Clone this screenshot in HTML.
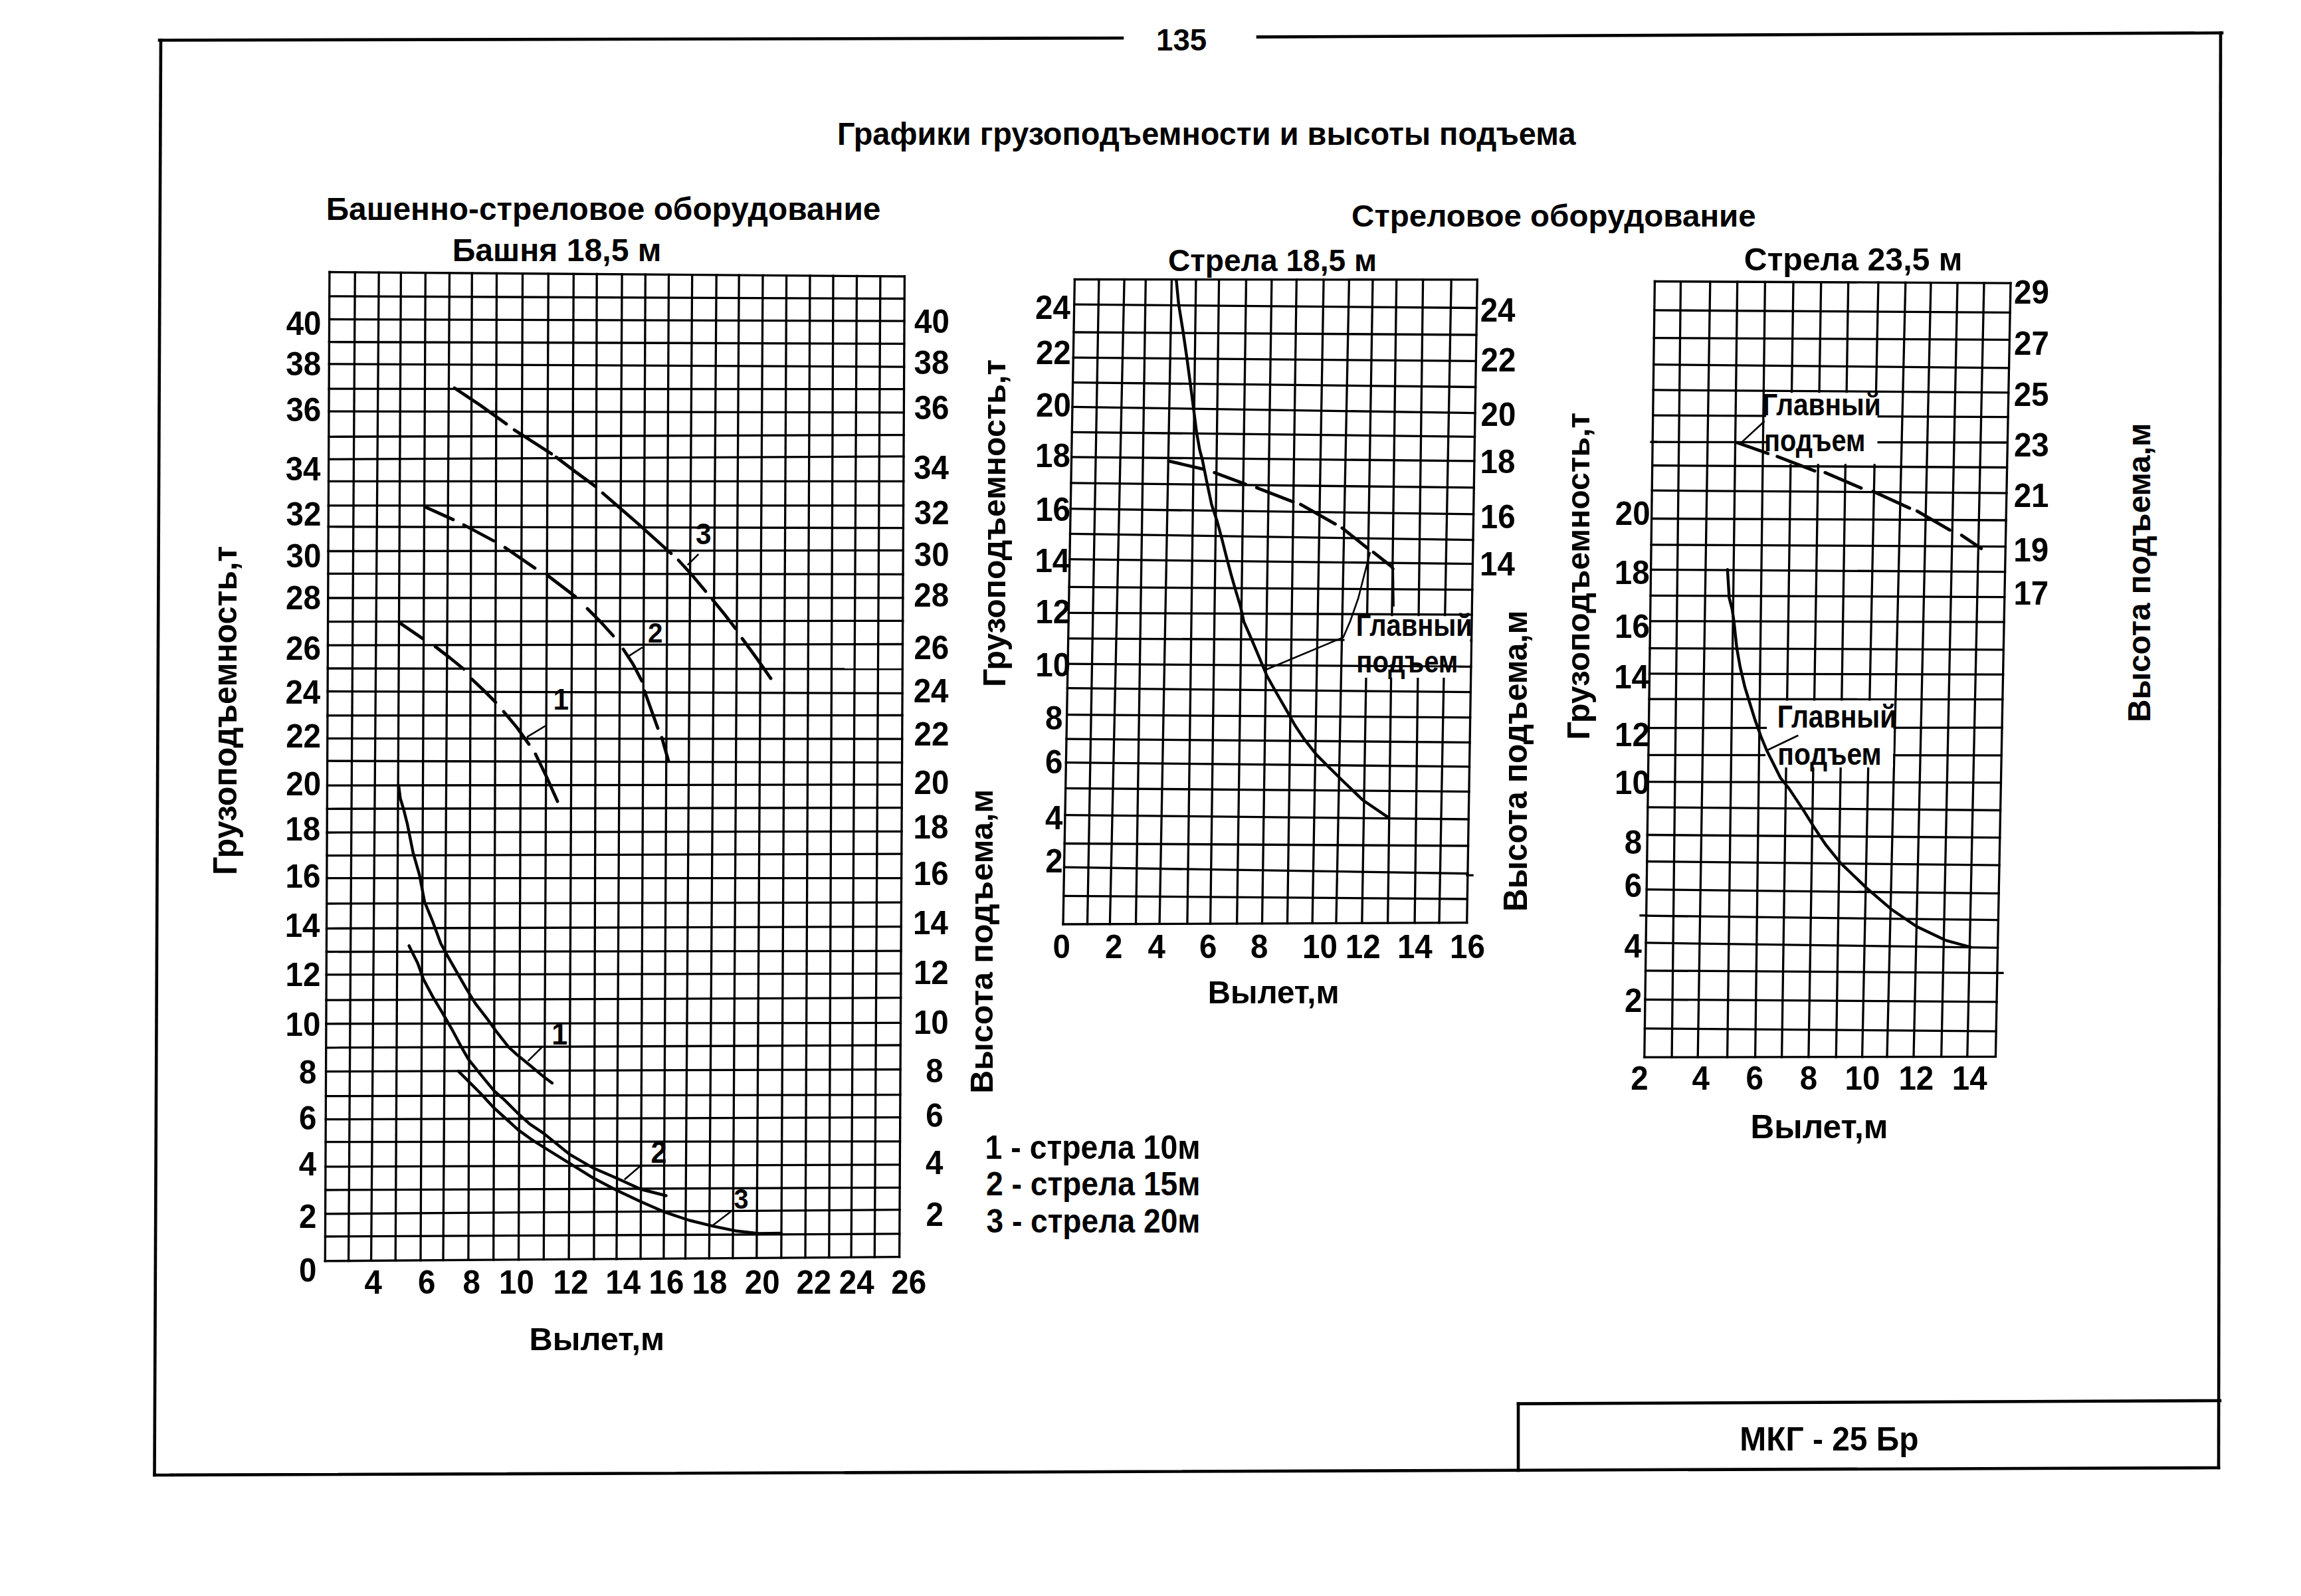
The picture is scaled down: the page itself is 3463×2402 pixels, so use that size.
<!DOCTYPE html>
<html><head><meta charset="utf-8"><style>
html,body{margin:0;padding:0;background:#fff;}
body{width:3463px;height:2402px;overflow:hidden;}
svg{display:block;}
text{font-family:"Liberation Sans",sans-serif;font-weight:bold;fill:#000;}
</style></head><body>
<svg xmlns="http://www.w3.org/2000/svg" width="3463" height="2402" viewBox="0 0 3463 2402">
<rect width="3463" height="2402" fill="#fff"/>
<g stroke="#000" stroke-linecap="square">
<line x1="240.0" y1="60.5" x2="1689.0" y2="57.3" stroke-width="4.6"/>
<line x1="1893.0" y1="55.6" x2="3344.0" y2="49.5" stroke-width="4.6"/>
<line x1="3342.0" y1="49.5" x2="3339.0" y2="2209.0" stroke-width="4.6"/>
<line x1="242.0" y1="60.5" x2="232.5" y2="2220.0" stroke-width="4.6"/>
<line x1="232.5" y1="2220.0" x2="3339.0" y2="2209.0" stroke-width="4.6"/>
<line x1="2285.0" y1="2112.6" x2="3341.0" y2="2108.0" stroke-width="4.6"/>
<line x1="2285.0" y1="2112.6" x2="2285.0" y2="2213.0" stroke-width="4.6"/>
<line x1="495.9" y1="409.5" x2="489.3" y2="1897.9" stroke-width="3.3"/>
<line x1="534.3" y1="409.8" x2="524.6" y2="1897.6" stroke-width="3.3"/>
<line x1="570.2" y1="410.1" x2="558.6" y2="1897.4" stroke-width="3.3"/>
<line x1="603.4" y1="410.3" x2="595.2" y2="1897.1" stroke-width="3.3"/>
<line x1="640.3" y1="410.6" x2="633.0" y2="1896.9" stroke-width="3.3"/>
<line x1="676.5" y1="410.9" x2="667.0" y2="1896.6" stroke-width="3.3"/>
<line x1="710.3" y1="411.1" x2="704.9" y2="1896.4" stroke-width="3.3"/>
<line x1="747.5" y1="411.4" x2="742.7" y2="1896.1" stroke-width="3.3"/>
<line x1="786.5" y1="411.7" x2="780.5" y2="1895.8" stroke-width="3.3"/>
<line x1="825.3" y1="412.0" x2="818.3" y2="1895.5" stroke-width="3.3"/>
<line x1="863.3" y1="412.3" x2="856.1" y2="1895.3" stroke-width="3.3"/>
<line x1="898.2" y1="412.5" x2="893.9" y2="1895.0" stroke-width="3.3"/>
<line x1="936.1" y1="412.8" x2="927.9" y2="1894.8" stroke-width="3.3"/>
<line x1="971.3" y1="413.1" x2="964.1" y2="1894.5" stroke-width="3.3"/>
<line x1="1006.5" y1="413.3" x2="998.9" y2="1894.2" stroke-width="3.3"/>
<line x1="1041.7" y1="413.6" x2="1031.5" y2="1894.0" stroke-width="3.3"/>
<line x1="1078.2" y1="413.9" x2="1067.3" y2="1893.8" stroke-width="3.3"/>
<line x1="1112.2" y1="414.1" x2="1102.9" y2="1893.5" stroke-width="3.3"/>
<line x1="1148.0" y1="414.4" x2="1138.8" y2="1893.2" stroke-width="3.3"/>
<line x1="1183.6" y1="414.7" x2="1175.8" y2="1893.0" stroke-width="3.3"/>
<line x1="1219.0" y1="414.9" x2="1212.0" y2="1892.7" stroke-width="3.3"/>
<line x1="1254.0" y1="415.2" x2="1247.8" y2="1892.5" stroke-width="3.3"/>
<line x1="1289.5" y1="415.5" x2="1281.1" y2="1892.2" stroke-width="3.3"/>
<line x1="1324.9" y1="415.7" x2="1316.3" y2="1892.0" stroke-width="3.3"/>
<line x1="1361.4" y1="416.0" x2="1353.6" y2="1891.7" stroke-width="3.3"/>
<line x1="495.9" y1="409.5" x2="1361.4" y2="416.0" stroke-width="3.3"/>
<line x1="495.7" y1="445.9" x2="1361.2" y2="449.5" stroke-width="3.3"/>
<line x1="495.6" y1="480.5" x2="1361.0" y2="483.1" stroke-width="3.3"/>
<line x1="495.4" y1="514.7" x2="1360.9" y2="517.3" stroke-width="3.3"/>
<line x1="495.3" y1="547.8" x2="1360.7" y2="552.1" stroke-width="3.3"/>
<line x1="495.1" y1="585.2" x2="1360.5" y2="585.7" stroke-width="3.3"/>
<line x1="495.0" y1="619.1" x2="1360.3" y2="620.8" stroke-width="3.3"/>
<line x1="494.8" y1="657.3" x2="1360.1" y2="654.7" stroke-width="3.3"/>
<line x1="494.7" y1="691.2" x2="1360.0" y2="686.9" stroke-width="3.3"/>
<line x1="494.5" y1="724.3" x2="1359.8" y2="724.3" stroke-width="3.3"/>
<line x1="494.3" y1="760.8" x2="1359.6" y2="760.8" stroke-width="3.3"/>
<line x1="494.2" y1="792.7" x2="1359.4" y2="794.7" stroke-width="3.3"/>
<line x1="494.0" y1="829.5" x2="1359.2" y2="828.3" stroke-width="3.3"/>
<line x1="493.9" y1="863.4" x2="1359.0" y2="864.3" stroke-width="3.3"/>
<line x1="493.7" y1="900.0" x2="1358.8" y2="899.9" stroke-width="3.3"/>
<line x1="493.6" y1="935.6" x2="1358.7" y2="934.3" stroke-width="3.3"/>
<line x1="493.4" y1="971.2" x2="1358.5" y2="969.5" stroke-width="3.3"/>
<line x1="493.3" y1="1006.0" x2="1358.3" y2="1006.9" stroke-width="3.3"/>
<line x1="493.1" y1="1040.5" x2="1358.1" y2="1043.4" stroke-width="3.3"/>
<line x1="492.9" y1="1076.9" x2="1357.9" y2="1076.5" stroke-width="3.3"/>
<line x1="492.8" y1="1111.3" x2="1357.7" y2="1112.1" stroke-width="3.3"/>
<line x1="492.6" y1="1145.2" x2="1357.5" y2="1147.7" stroke-width="3.3"/>
<line x1="492.5" y1="1182.2" x2="1357.4" y2="1180.8" stroke-width="3.3"/>
<line x1="492.3" y1="1217.3" x2="1357.2" y2="1215.6" stroke-width="3.3"/>
<line x1="492.2" y1="1253.0" x2="1357.0" y2="1251.3" stroke-width="3.3"/>
<line x1="492.0" y1="1287.7" x2="1356.8" y2="1285.2" stroke-width="3.3"/>
<line x1="491.9" y1="1321.7" x2="1356.6" y2="1321.7" stroke-width="3.3"/>
<line x1="491.7" y1="1360.0" x2="1356.4" y2="1358.2" stroke-width="3.3"/>
<line x1="491.5" y1="1397.3" x2="1356.2" y2="1394.7" stroke-width="3.3"/>
<line x1="491.4" y1="1432.5" x2="1356.0" y2="1431.2" stroke-width="3.3"/>
<line x1="491.2" y1="1466.9" x2="1355.9" y2="1465.2" stroke-width="3.3"/>
<line x1="491.0" y1="1505.1" x2="1355.7" y2="1501.7" stroke-width="3.3"/>
<line x1="490.9" y1="1540.8" x2="1355.5" y2="1539.4" stroke-width="3.3"/>
<line x1="490.7" y1="1576.8" x2="1355.3" y2="1573.0" stroke-width="3.3"/>
<line x1="490.6" y1="1612.6" x2="1355.1" y2="1609.5" stroke-width="3.3"/>
<line x1="490.4" y1="1649.6" x2="1354.9" y2="1647.7" stroke-width="3.3"/>
<line x1="490.2" y1="1684.7" x2="1354.7" y2="1681.6" stroke-width="3.3"/>
<line x1="490.1" y1="1718.6" x2="1354.5" y2="1717.8" stroke-width="3.3"/>
<line x1="489.9" y1="1755.9" x2="1354.3" y2="1752.9" stroke-width="3.3"/>
<line x1="489.8" y1="1791.0" x2="1354.2" y2="1787.3" stroke-width="3.3"/>
<line x1="489.6" y1="1826.9" x2="1354.0" y2="1820.7" stroke-width="3.3"/>
<line x1="489.5" y1="1861.0" x2="1353.8" y2="1856.9" stroke-width="3.3"/>
<line x1="489.3" y1="1897.9" x2="1353.6" y2="1891.7" stroke-width="3.3"/>
<line x1="1617.4" y1="420.5" x2="1600.0" y2="1391.0" stroke-width="3.3"/>
<line x1="1653.9" y1="420.5" x2="1636.5" y2="1390.9" stroke-width="3.3"/>
<line x1="1692.1" y1="420.5" x2="1670.4" y2="1390.7" stroke-width="3.3"/>
<line x1="1724.3" y1="420.6" x2="1709.5" y2="1390.6" stroke-width="3.3"/>
<line x1="1763.4" y1="420.6" x2="1745.1" y2="1390.4" stroke-width="3.3"/>
<line x1="1799.9" y1="420.6" x2="1786.9" y2="1390.3" stroke-width="3.3"/>
<line x1="1834.6" y1="420.6" x2="1821.6" y2="1390.1" stroke-width="3.3"/>
<line x1="1875.5" y1="420.7" x2="1861.6" y2="1390.0" stroke-width="3.3"/>
<line x1="1913.9" y1="420.7" x2="1899.5" y2="1389.8" stroke-width="3.3"/>
<line x1="1951.3" y1="420.7" x2="1937.5" y2="1389.7" stroke-width="3.3"/>
<line x1="1992.1" y1="420.7" x2="1975.1" y2="1389.5" stroke-width="3.3"/>
<line x1="2030.4" y1="420.8" x2="2010.9" y2="1389.4" stroke-width="3.3"/>
<line x1="2066.0" y1="420.8" x2="2049.8" y2="1389.2" stroke-width="3.3"/>
<line x1="2101.7" y1="420.8" x2="2088.6" y2="1389.1" stroke-width="3.3"/>
<line x1="2141.6" y1="420.8" x2="2129.1" y2="1388.9" stroke-width="3.3"/>
<line x1="2184.2" y1="420.9" x2="2166.0" y2="1388.8" stroke-width="3.3"/>
<line x1="2223.3" y1="420.9" x2="2207.7" y2="1388.6" stroke-width="3.3"/>
<line x1="1617.4" y1="420.5" x2="2223.3" y2="420.9" stroke-width="3.3"/>
<line x1="1616.7" y1="458.2" x2="2222.6" y2="463.5" stroke-width="3.3"/>
<line x1="1616.0" y1="500.0" x2="2222.0" y2="504.0" stroke-width="3.3"/>
<line x1="1615.3" y1="538.2" x2="2221.3" y2="543.4" stroke-width="3.3"/>
<line x1="1614.6" y1="575.6" x2="2220.7" y2="582.5" stroke-width="3.3"/>
<line x1="1614.0" y1="612.4" x2="2220.1" y2="621.6" stroke-width="3.3"/>
<line x1="1613.3" y1="650.3" x2="2219.5" y2="657.3" stroke-width="3.3"/>
<line x1="1612.6" y1="687.8" x2="2218.9" y2="693.9" stroke-width="3.3"/>
<line x1="1611.9" y1="726.9" x2="2218.3" y2="733.9" stroke-width="3.3"/>
<line x1="1611.2" y1="765.7" x2="2217.6" y2="773.9" stroke-width="3.3"/>
<line x1="1610.5" y1="803.4" x2="2217.0" y2="812.6" stroke-width="3.3"/>
<line x1="1609.8" y1="841.7" x2="2216.4" y2="848.6" stroke-width="3.3"/>
<line x1="1609.1" y1="883.4" x2="2215.8" y2="887.7" stroke-width="3.3"/>
<line x1="1608.4" y1="922.3" x2="2215.2" y2="925.1" stroke-width="3.3"/>
<line x1="1607.7" y1="960.9" x2="2214.5" y2="964.0" stroke-width="3.3"/>
<line x1="1607.0" y1="999.1" x2="2213.9" y2="1003.4" stroke-width="3.3"/>
<line x1="1606.4" y1="1035.6" x2="2213.3" y2="1041.7" stroke-width="3.3"/>
<line x1="1605.7" y1="1075.6" x2="2212.7" y2="1079.9" stroke-width="3.3"/>
<line x1="1605.0" y1="1112.1" x2="2212.1" y2="1117.3" stroke-width="3.3"/>
<line x1="1604.4" y1="1147.7" x2="2211.5" y2="1153.8" stroke-width="3.3"/>
<line x1="1603.7" y1="1186.3" x2="2210.9" y2="1191.3" stroke-width="3.3"/>
<line x1="1602.9" y1="1226.6" x2="2210.2" y2="1233.0" stroke-width="3.3"/>
<line x1="1602.2" y1="1269.5" x2="2209.6" y2="1273.0" stroke-width="3.3"/>
<line x1="1601.5" y1="1305.2" x2="2208.9" y2="1314.7" stroke-width="3.3"/>
<line x1="1600.8" y1="1348.3" x2="2208.3" y2="1353.0" stroke-width="3.3"/>
<line x1="1600.0" y1="1391.0" x2="2207.7" y2="1388.6" stroke-width="3.3"/>
<line x1="2490.4" y1="423.5" x2="2474.8" y2="1591.2" stroke-width="3.3"/>
<line x1="2529.5" y1="423.7" x2="2516.1" y2="1591.1" stroke-width="3.3"/>
<line x1="2573.8" y1="423.9" x2="2555.2" y2="1591.1" stroke-width="3.3"/>
<line x1="2614.7" y1="424.1" x2="2599.6" y2="1591.0" stroke-width="3.3"/>
<line x1="2656.4" y1="424.3" x2="2641.6" y2="1590.9" stroke-width="3.3"/>
<line x1="2699.0" y1="424.5" x2="2681.6" y2="1590.9" stroke-width="3.3"/>
<line x1="2740.7" y1="424.7" x2="2721.9" y2="1590.8" stroke-width="3.3"/>
<line x1="2781.7" y1="424.9" x2="2763.3" y2="1590.8" stroke-width="3.3"/>
<line x1="2826.9" y1="425.1" x2="2802.6" y2="1590.7" stroke-width="3.3"/>
<line x1="2867.8" y1="425.3" x2="2840.0" y2="1590.6" stroke-width="3.3"/>
<line x1="2906.0" y1="425.5" x2="2880.0" y2="1590.6" stroke-width="3.3"/>
<line x1="2946.0" y1="425.7" x2="2921.7" y2="1590.5" stroke-width="3.3"/>
<line x1="2986.0" y1="425.9" x2="2960.8" y2="1590.5" stroke-width="3.3"/>
<line x1="3026.0" y1="426.1" x2="3003.4" y2="1590.4" stroke-width="3.3"/>
<line x1="2490.4" y1="423.5" x2="3026.0" y2="426.1" stroke-width="3.3"/>
<line x1="2489.8" y1="466.9" x2="3025.1" y2="470.4" stroke-width="3.3"/>
<line x1="2489.3" y1="508.6" x2="3024.3" y2="511.3" stroke-width="3.3"/>
<line x1="2488.7" y1="548.6" x2="3023.5" y2="553.8" stroke-width="3.3"/>
<line x1="2488.2" y1="586.9" x2="3022.8" y2="590.9" stroke-width="3.3"/>
<line x1="2487.7" y1="625.1" x2="3022.1" y2="627.7" stroke-width="3.3"/>
<line x1="2487.2" y1="665.2" x2="3021.3" y2="666.0" stroke-width="3.3"/>
<line x1="2486.7" y1="700.5" x2="3020.6" y2="703.5" stroke-width="3.3"/>
<line x1="2486.2" y1="738.2" x2="3019.9" y2="742.1" stroke-width="3.3"/>
<line x1="2485.6" y1="780.5" x2="3019.1" y2="783.0" stroke-width="3.3"/>
<line x1="2485.1" y1="819.9" x2="3018.3" y2="822.6" stroke-width="3.3"/>
<line x1="2484.6" y1="857.3" x2="3017.6" y2="860.7" stroke-width="3.3"/>
<line x1="2484.1" y1="896.4" x2="3016.8" y2="898.6" stroke-width="3.3"/>
<line x1="2483.6" y1="934.8" x2="3016.1" y2="936.1" stroke-width="3.3"/>
<line x1="2483.0" y1="975.6" x2="3015.3" y2="977.8" stroke-width="3.3"/>
<line x1="2482.5" y1="1013.9" x2="3014.6" y2="1015.2" stroke-width="3.3"/>
<line x1="2482.0" y1="1052.1" x2="3013.8" y2="1052.5" stroke-width="3.3"/>
<line x1="2481.4" y1="1095.6" x2="3013.0" y2="1095.1" stroke-width="3.3"/>
<line x1="2480.9" y1="1136.4" x2="3012.2" y2="1136.9" stroke-width="3.3"/>
<line x1="2480.3" y1="1176.7" x2="3011.4" y2="1177.8" stroke-width="3.3"/>
<line x1="2479.8" y1="1214.8" x2="3010.6" y2="1219.5" stroke-width="3.3"/>
<line x1="2479.3" y1="1256.5" x2="3009.8" y2="1260.7" stroke-width="3.3"/>
<line x1="2478.7" y1="1296.5" x2="3009.0" y2="1302.1" stroke-width="3.3"/>
<line x1="2478.2" y1="1338.7" x2="3008.2" y2="1344.7" stroke-width="3.3"/>
<line x1="2477.6" y1="1378.2" x2="3007.4" y2="1384.7" stroke-width="3.3"/>
<line x1="2477.1" y1="1418.9" x2="3006.6" y2="1426.3" stroke-width="3.3"/>
<line x1="2476.5" y1="1460.8" x2="3005.8" y2="1464.3" stroke-width="3.3"/>
<line x1="2476.0" y1="1504.3" x2="3005.0" y2="1507.8" stroke-width="3.3"/>
<line x1="2475.4" y1="1547.8" x2="3004.1" y2="1552.1" stroke-width="3.3"/>
<line x1="2474.8" y1="1591.2" x2="3003.4" y2="1590.4" stroke-width="3.3"/>
<line x1="2485.0" y1="665.2" x2="2492.0" y2="665.2" stroke-width="3.3"/>
<line x1="2208.0" y1="1317.3" x2="2216.0" y2="1317.3" stroke-width="3.3"/>
<line x1="3003.0" y1="1464.3" x2="3014.0" y2="1464.3" stroke-width="3.3"/>
<line x1="2469.0" y1="1377.8" x2="2478.0" y2="1377.8" stroke-width="3.3"/>
<rect x="2023.5" y="927.3" width="188.8" height="72.7" fill="#fff" stroke="none"/>
<rect x="2040.0" y="1004.5" width="155.0" height="15.5" fill="#fff" stroke="none"/>
<rect x="2658.0" y="591.2" width="167.5" height="107.0" fill="#fff" stroke="none"/>
<rect x="2659.0" y="1054.5" width="190.5" height="80.0" fill="#fff" stroke="none"/>
<rect x="2657.0" y="1134.5" width="192.0" height="20.5" fill="#fff" stroke="none"/>
<polyline points="684.0,584.0 723.0,610.0 762.0,638.0" fill="none" stroke-width="4.8" stroke-linejoin="round" stroke-linecap="round"/>
<polyline points="774.0,647.0 802.0,665.0 830.0,683.0" fill="none" stroke-width="4.8" stroke-linejoin="round" stroke-linecap="round"/>
<polyline points="837.0,688.0 866.0,710.0 896.0,732.0" fill="none" stroke-width="4.8" stroke-linejoin="round" stroke-linecap="round"/>
<polyline points="907.0,742.0 960.0,788.0 1010.0,833.0" fill="none" stroke-width="4.8" stroke-linejoin="round" stroke-linecap="round"/>
<polyline points="1021.0,843.0 1042.0,866.0 1062.0,890.0" fill="none" stroke-width="4.8" stroke-linejoin="round" stroke-linecap="round"/>
<polyline points="1072.0,902.0 1090.0,924.0 1107.0,946.0" fill="none" stroke-width="4.8" stroke-linejoin="round" stroke-linecap="round"/>
<polyline points="1117.0,961.0 1139.0,991.0 1160.0,1021.0" fill="none" stroke-width="4.8" stroke-linejoin="round" stroke-linecap="round"/>
<polyline points="640.0,763.0 682.0,782.0" fill="none" stroke-width="4.8" stroke-linejoin="round" stroke-linecap="round"/>
<polyline points="698.0,790.0 743.0,814.0" fill="none" stroke-width="4.8" stroke-linejoin="round" stroke-linecap="round"/>
<polyline points="760.0,824.0 805.0,855.0" fill="none" stroke-width="4.8" stroke-linejoin="round" stroke-linecap="round"/>
<polyline points="824.0,866.0 866.0,898.0" fill="none" stroke-width="4.8" stroke-linejoin="round" stroke-linecap="round"/>
<polyline points="884.0,916.0 904.0,936.0 923.0,957.0" fill="none" stroke-width="4.8" stroke-linejoin="round" stroke-linecap="round"/>
<polyline points="938.0,977.0 953.0,1000.0 966.0,1025.0" fill="none" stroke-width="4.8" stroke-linejoin="round" stroke-linecap="round"/>
<polyline points="970.0,1040.0 980.0,1068.0 990.0,1096.0" fill="none" stroke-width="4.8" stroke-linejoin="round" stroke-linecap="round"/>
<polyline points="996.0,1110.0 1006.0,1145.0" fill="none" stroke-width="4.8" stroke-linejoin="round" stroke-linecap="round"/>
<polyline points="601.0,937.0 636.0,961.0" fill="none" stroke-width="4.8" stroke-linejoin="round" stroke-linecap="round"/>
<polyline points="655.0,973.0 677.0,990.0 698.0,1007.0" fill="none" stroke-width="4.8" stroke-linejoin="round" stroke-linecap="round"/>
<polyline points="710.0,1022.0 728.0,1039.0 746.0,1057.0" fill="none" stroke-width="4.8" stroke-linejoin="round" stroke-linecap="round"/>
<polyline points="758.0,1071.0 778.0,1095.0 796.0,1120.0" fill="none" stroke-width="4.8" stroke-linejoin="round" stroke-linecap="round"/>
<polyline points="806.0,1135.0 822.0,1168.0 839.0,1206.0" fill="none" stroke-width="4.8" stroke-linejoin="round" stroke-linecap="round"/>
<line x1="1050.4" y1="834.9" x2="1035.7" y2="849.5" stroke-width="2.6"/>
<line x1="965.7" y1="975.0" x2="947.8" y2="986.4" stroke-width="2.6"/>
<line x1="820.0" y1="1093.0" x2="794.0" y2="1108.6" stroke-width="2.6"/>
<polyline points="600.0,1182.0 602.5,1201.7 607.7,1219.0 613.0,1240.0 621.7,1283.4 631.2,1316.4 639.0,1357.4 651.2,1386.9 663.4,1420.0 673.8,1439.1 687.7,1463.4 701.6,1487.7 715.5,1510.3 732.9,1532.9 746.8,1552.1 765.9,1576.4 778.1,1587.4 797.2,1603.0 818.1,1620.4 831.0,1630.0" fill="none" stroke-width="4.4" stroke-linejoin="round" stroke-linecap="round"/>
<polyline points="615.6,1423.4 628.6,1449.5 637.3,1473.8 651.2,1499.9 666.8,1526.0 680.8,1550.3 694.7,1576.4 705.1,1594.3 726.0,1620.4 743.3,1641.3 759.0,1655.2 778.1,1674.3 797.2,1691.7 818.1,1705.6 856.6,1736.8 892.7,1757.8 928.8,1773.5 964.9,1790.0 1002.5,1799.5" fill="none" stroke-width="4.4" stroke-linejoin="round" stroke-linecap="round"/>
<polyline points="689.7,1612.0 705.1,1627.4 722.5,1644.8 741.6,1665.6 760.7,1683.0 779.8,1700.4 799.0,1714.3 818.1,1726.5 856.6,1750.3 892.7,1772.8 928.8,1791.8 964.9,1808.8 1001.0,1824.5 1037.0,1836.5 1073.1,1845.3 1109.2,1852.8 1142.3,1856.5 1176.0,1856.0" fill="none" stroke-width="4.4" stroke-linejoin="round" stroke-linecap="round"/>
<line x1="814.6" y1="1577.0" x2="795.5" y2="1596.0" stroke-width="2.6"/>
<line x1="961.9" y1="1756.3" x2="940.8" y2="1774.4" stroke-width="2.6"/>
<line x1="1098.5" y1="1824.5" x2="1073.0" y2="1844.0" stroke-width="2.6"/>
<polyline points="1770.3,420.9 1773.8,457.4 1780.8,500.8 1786.8,542.5 1792.1,582.5 1795.5,608.6 1800.8,650.3 1805.5,676.9 1809.4,691.3 1816.4,726.1 1823.4,759.1 1832.0,785.2 1839.0,811.2 1846.0,839.0 1852.9,865.1 1859.9,889.5 1866.8,912.1 1872.0,935.6 1884.2,963.5 1898.1,996.5 1906.8,1017.3 1920.9,1042.5 1940.0,1075.6 1948.7,1091.2 1962.6,1112.1 1981.7,1136.4 2000.8,1155.5 2021.7,1176.0 2051.2,1204.3 2089.5,1230.4" fill="none" stroke-width="4.4" stroke-linejoin="round" stroke-linecap="round"/>
<polyline points="1759.0,693.9 1811.2,706.1" fill="none" stroke-width="4.8" stroke-linejoin="round" stroke-linecap="round"/>
<polyline points="1827.7,711.3 1874.6,728.7" fill="none" stroke-width="4.8" stroke-linejoin="round" stroke-linecap="round"/>
<polyline points="1891.2,733.9 1946.1,755.3" fill="none" stroke-width="4.8" stroke-linejoin="round" stroke-linecap="round"/>
<polyline points="1957.4,759.1 2009.5,788.6" fill="none" stroke-width="4.8" stroke-linejoin="round" stroke-linecap="round"/>
<polyline points="2019.9,794.7 2058.2,825.1" fill="none" stroke-width="4.8" stroke-linejoin="round" stroke-linecap="round"/>
<polyline points="2066.9,831.2 2094.7,853.0 2096.4,856.4" fill="none" stroke-width="4.8" stroke-linejoin="round" stroke-linecap="round"/>
<line x1="2096.4" y1="856.4" x2="2097.3" y2="911.2" stroke-width="3.2"/>
<polyline points="2061.7,832.1 2044.3,900.0 2032.1,934.8 2021.7,959.1 1905.0,1008.0" fill="none" stroke-width="2.6" stroke-linejoin="round" stroke-linecap="round"/>
<polyline points="2613.8,666.1 2660.8,682.6" fill="none" stroke-width="4.8" stroke-linejoin="round" stroke-linecap="round"/>
<polyline points="2674.7,686.9 2731.2,708.7" fill="none" stroke-width="4.8" stroke-linejoin="round" stroke-linecap="round"/>
<polyline points="2746.8,711.3 2801.0,734.5" fill="none" stroke-width="4.8" stroke-linejoin="round" stroke-linecap="round"/>
<polyline points="2818.8,739.5 2873.9,764.7" fill="none" stroke-width="4.8" stroke-linejoin="round" stroke-linecap="round"/>
<polyline points="2885.2,769.1 2934.7,797.8" fill="none" stroke-width="4.8" stroke-linejoin="round" stroke-linecap="round"/>
<polyline points="2952.1,805.6 2981.7,825.6" fill="none" stroke-width="4.8" stroke-linejoin="round" stroke-linecap="round"/>
<line x1="2654.7" y1="634.7" x2="2620.8" y2="666.0" stroke-width="2.6"/>
<polyline points="2599.9,857.3 2602.5,900.0 2606.9,916.9 2609.5,934.8 2613.8,974.8 2619.0,1004.3 2626.0,1033.9 2632.9,1056.5 2641.6,1084.3 2650.3,1108.6 2659.0,1129.5 2667.7,1146.8 2679.9,1171.2 2692.0,1186.1 2712.9,1217.4 2730.3,1245.2 2747.7,1271.3 2770.3,1299.1 2790.0,1318.0 2809.6,1336.9 2846.1,1368.2 2884.3,1394.3 2927.8,1415.1 2966.0,1425.5" fill="none" stroke-width="4.4" stroke-linejoin="round" stroke-linecap="round"/>
<line x1="2661.0" y1="1128.5" x2="2705.2" y2="1107.3" stroke-width="2.6"/>
</g>
<g>
<text x="1740.1" y="76.2" font-size="46.95" textLength="76.1" lengthAdjust="spacingAndGlyphs">135</text>
<text x="1259.9" y="218.3" font-size="48.11" textLength="1111.6" lengthAdjust="spacingAndGlyphs">Графики грузоподъемности и высоты подъема</text>
<text x="490.7" y="330.7" font-size="47.68" textLength="834.7" lengthAdjust="spacingAndGlyphs">Башенно-стреловое оборудование</text>
<text x="680.7" y="392.8" font-size="47.53" textLength="314.8" lengthAdjust="spacingAndGlyphs">Башня 18,5 м</text>
<text x="2034.1" y="340.6" font-size="46.80" textLength="608.7" lengthAdjust="spacingAndGlyphs">Стреловое оборудование</text>
<text x="1757.9" y="407.6" font-size="46.95" textLength="314.2" lengthAdjust="spacingAndGlyphs">Стрела 18,5 м</text>
<text x="2624.8" y="407.0" font-size="47.97" textLength="328.7" lengthAdjust="spacingAndGlyphs">Стрела 23,5 м</text>
<text x="2618.3" y="2183.0" font-size="50.15" textLength="269.2" lengthAdjust="spacingAndGlyphs">МКГ - 25 Бр</text>
<text x="796.6" y="2031.8" font-size="48.69" textLength="203.6" lengthAdjust="spacingAndGlyphs">Вылет,м</text>
<text x="1817.8" y="1509.9" font-size="48.98" textLength="197.7" lengthAdjust="spacingAndGlyphs">Вылет,м</text>
<text x="2634.5" y="1713.0" font-size="50.87" textLength="206.9" lengthAdjust="spacingAndGlyphs">Вылет,м</text>
<text x="1482.6" y="1743.5" font-size="50.58" textLength="324.0" lengthAdjust="spacingAndGlyphs">1 - стрела 10м</text>
<text x="1483.9" y="1799.0" font-size="49.13" textLength="322.6" lengthAdjust="spacingAndGlyphs">2 - стрела 15м</text>
<text x="1484.4" y="1854.7" font-size="49.27" textLength="322.1" lengthAdjust="spacingAndGlyphs">3 - стрела 20м</text>
<text x="356.2" y="1317.1" font-size="49.86" textLength="495.4" lengthAdjust="spacingAndGlyphs" transform="rotate(-90 356.2 1317.1)">Грузоподъемность,т</text>
<text x="1494.0" y="1645.7" font-size="48.69" textLength="457.8" lengthAdjust="spacingAndGlyphs" transform="rotate(-90 1494.0 1645.7)">Высота подъема,м</text>
<text x="1513.0" y="1034.1" font-size="48.11" textLength="493.2" lengthAdjust="spacingAndGlyphs" transform="rotate(-90 1513.0 1034.1)">Грузоподъемность,т</text>
<text x="2298.0" y="1372.0" font-size="49.42" textLength="453.2" lengthAdjust="spacingAndGlyphs" transform="rotate(-90 2298.0 1372.0)">Высота подъема,м</text>
<text x="2392.0" y="1113.5" font-size="47.97" textLength="492.7" lengthAdjust="spacingAndGlyphs" transform="rotate(-90 2392.0 1113.5)">Грузоподъемность,т</text>
<text x="3236.0" y="1087.0" font-size="47.97" textLength="450.3" lengthAdjust="spacingAndGlyphs" transform="rotate(-90 3236.0 1087.0)">Высота подъема,м</text>
<text x="2040.7" y="956.8" font-size="46.51" textLength="175.1" lengthAdjust="spacingAndGlyphs" font-weight="normal">Главный</text>
<text x="2041.3" y="1012.1" font-size="46.28" textLength="153.1" lengthAdjust="spacingAndGlyphs" font-weight="normal">подъем</text>
<text x="2652.2" y="624.7" font-size="46.51" textLength="178.5" lengthAdjust="spacingAndGlyphs" font-weight="normal">Главный</text>
<text x="2654.9" y="678.9" font-size="45.51" textLength="152.6" lengthAdjust="spacingAndGlyphs" font-weight="normal">подъем</text>
<text x="2674.8" y="1095.1" font-size="48.69" textLength="179.5" lengthAdjust="spacingAndGlyphs" font-weight="normal">Главный</text>
<text x="2675.3" y="1150.5" font-size="47.05" textLength="156.4" lengthAdjust="spacingAndGlyphs" font-weight="normal">подъем</text>
<text x="1047.0" y="818.5" font-size="45.00" textLength="23.5" lengthAdjust="spacingAndGlyphs">3</text>
<text x="974.9" y="967.0" font-size="43.00" textLength="22.5" lengthAdjust="spacingAndGlyphs">2</text>
<text x="832.5" y="1067.7" font-size="45.00" textLength="23.5" lengthAdjust="spacingAndGlyphs">1</text>
<text x="830.2" y="1572.2" font-size="46.00" textLength="24.0" lengthAdjust="spacingAndGlyphs">1</text>
<text x="979.4" y="1749.8" font-size="46.00" textLength="24.0" lengthAdjust="spacingAndGlyphs">2</text>
<text x="1104.5" y="1818.7" font-size="42.00" textLength="22.0" lengthAdjust="spacingAndGlyphs">3</text>
<text x="430.7" y="503.6" font-size="50.50" textLength="52.8" lengthAdjust="spacingAndGlyphs">40</text>
<text x="430.3" y="564.8" font-size="50.50" textLength="52.8" lengthAdjust="spacingAndGlyphs">38</text>
<text x="430.4" y="633.9" font-size="50.50" textLength="52.8" lengthAdjust="spacingAndGlyphs">36</text>
<text x="429.7" y="723.4" font-size="50.50" textLength="52.8" lengthAdjust="spacingAndGlyphs">34</text>
<text x="430.5" y="791.2" font-size="50.50" textLength="52.8" lengthAdjust="spacingAndGlyphs">32</text>
<text x="430.5" y="854.4" font-size="50.50" textLength="52.8" lengthAdjust="spacingAndGlyphs">30</text>
<text x="430.0" y="916.5" font-size="50.50" textLength="52.8" lengthAdjust="spacingAndGlyphs">28</text>
<text x="430.1" y="993.4" font-size="50.50" textLength="52.8" lengthAdjust="spacingAndGlyphs">26</text>
<text x="429.4" y="1058.7" font-size="50.50" textLength="52.8" lengthAdjust="spacingAndGlyphs">24</text>
<text x="430.2" y="1124.8" font-size="50.50" textLength="52.8" lengthAdjust="spacingAndGlyphs">22</text>
<text x="430.3" y="1197.4" font-size="50.50" textLength="52.8" lengthAdjust="spacingAndGlyphs">20</text>
<text x="429.3" y="1264.7" font-size="50.50" textLength="52.8" lengthAdjust="spacingAndGlyphs">18</text>
<text x="429.5" y="1336.1" font-size="50.50" textLength="52.8" lengthAdjust="spacingAndGlyphs">16</text>
<text x="428.7" y="1409.9" font-size="50.50" textLength="52.8" lengthAdjust="spacingAndGlyphs">14</text>
<text x="429.6" y="1484.3" font-size="50.50" textLength="52.8" lengthAdjust="spacingAndGlyphs">12</text>
<text x="429.6" y="1559.1" font-size="50.50" textLength="52.8" lengthAdjust="spacingAndGlyphs">10</text>
<text x="450.0" y="1631.2" font-size="50.50" textLength="26.4" lengthAdjust="spacingAndGlyphs">8</text>
<text x="450.0" y="1699.5" font-size="50.50" textLength="26.4" lengthAdjust="spacingAndGlyphs">6</text>
<text x="449.8" y="1769.1" font-size="50.50" textLength="26.4" lengthAdjust="spacingAndGlyphs">4</text>
<text x="450.1" y="1848.2" font-size="50.50" textLength="26.4" lengthAdjust="spacingAndGlyphs">2</text>
<text x="450.0" y="1928.9" font-size="50.50" textLength="26.4" lengthAdjust="spacingAndGlyphs">0</text>
<text x="1376.0" y="501.3" font-size="50.50" textLength="52.8" lengthAdjust="spacingAndGlyphs">40</text>
<text x="1375.6" y="562.5" font-size="50.50" textLength="52.8" lengthAdjust="spacingAndGlyphs">38</text>
<text x="1375.7" y="630.8" font-size="50.50" textLength="52.8" lengthAdjust="spacingAndGlyphs">36</text>
<text x="1375.0" y="721.3" font-size="50.50" textLength="52.8" lengthAdjust="spacingAndGlyphs">34</text>
<text x="1375.8" y="788.6" font-size="50.50" textLength="52.8" lengthAdjust="spacingAndGlyphs">32</text>
<text x="1375.8" y="851.7" font-size="50.50" textLength="52.8" lengthAdjust="spacingAndGlyphs">30</text>
<text x="1375.3" y="913.4" font-size="50.50" textLength="52.8" lengthAdjust="spacingAndGlyphs">28</text>
<text x="1375.4" y="991.8" font-size="50.50" textLength="52.8" lengthAdjust="spacingAndGlyphs">26</text>
<text x="1374.7" y="1057.0" font-size="50.50" textLength="52.8" lengthAdjust="spacingAndGlyphs">24</text>
<text x="1375.5" y="1122.1" font-size="50.50" textLength="52.8" lengthAdjust="spacingAndGlyphs">22</text>
<text x="1375.6" y="1195.2" font-size="50.50" textLength="52.8" lengthAdjust="spacingAndGlyphs">20</text>
<text x="1374.6" y="1262.2" font-size="50.50" textLength="52.8" lengthAdjust="spacingAndGlyphs">18</text>
<text x="1374.8" y="1332.1" font-size="50.50" textLength="52.8" lengthAdjust="spacingAndGlyphs">16</text>
<text x="1374.0" y="1406.4" font-size="50.50" textLength="52.8" lengthAdjust="spacingAndGlyphs">14</text>
<text x="1374.9" y="1481.3" font-size="50.50" textLength="52.8" lengthAdjust="spacingAndGlyphs">12</text>
<text x="1374.9" y="1556.0" font-size="50.50" textLength="52.8" lengthAdjust="spacingAndGlyphs">10</text>
<text x="1393.3" y="1628.6" font-size="50.50" textLength="26.4" lengthAdjust="spacingAndGlyphs">8</text>
<text x="1393.3" y="1695.9" font-size="50.50" textLength="26.4" lengthAdjust="spacingAndGlyphs">6</text>
<text x="1393.1" y="1766.5" font-size="50.50" textLength="26.4" lengthAdjust="spacingAndGlyphs">4</text>
<text x="1393.4" y="1844.8" font-size="50.50" textLength="26.4" lengthAdjust="spacingAndGlyphs">2</text>
<text x="548.5" y="1946.7" font-size="50.50" textLength="26.4" lengthAdjust="spacingAndGlyphs">4</text>
<text x="629.1" y="1946.7" font-size="50.50" textLength="26.4" lengthAdjust="spacingAndGlyphs">6</text>
<text x="696.6" y="1946.7" font-size="50.50" textLength="26.4" lengthAdjust="spacingAndGlyphs">8</text>
<text x="751.0" y="1946.7" font-size="50.50" textLength="52.8" lengthAdjust="spacingAndGlyphs">10</text>
<text x="832.5" y="1946.7" font-size="50.50" textLength="52.8" lengthAdjust="spacingAndGlyphs">12</text>
<text x="911.3" y="1946.7" font-size="50.50" textLength="52.8" lengthAdjust="spacingAndGlyphs">14</text>
<text x="976.6" y="1946.7" font-size="50.50" textLength="52.8" lengthAdjust="spacingAndGlyphs">16</text>
<text x="1041.5" y="1946.7" font-size="50.50" textLength="52.8" lengthAdjust="spacingAndGlyphs">18</text>
<text x="1120.8" y="1946.7" font-size="50.50" textLength="52.8" lengthAdjust="spacingAndGlyphs">20</text>
<text x="1198.4" y="1946.7" font-size="50.50" textLength="52.8" lengthAdjust="spacingAndGlyphs">22</text>
<text x="1262.8" y="1946.7" font-size="50.50" textLength="52.8" lengthAdjust="spacingAndGlyphs">24</text>
<text x="1341.3" y="1946.7" font-size="50.50" textLength="52.8" lengthAdjust="spacingAndGlyphs">26</text>
<text x="1558.1" y="480.4" font-size="50.50" textLength="52.8" lengthAdjust="spacingAndGlyphs">24</text>
<text x="1558.9" y="547.8" font-size="50.50" textLength="52.8" lengthAdjust="spacingAndGlyphs">22</text>
<text x="1559.0" y="627.4" font-size="50.50" textLength="52.8" lengthAdjust="spacingAndGlyphs">20</text>
<text x="1558.0" y="702.6" font-size="50.50" textLength="52.8" lengthAdjust="spacingAndGlyphs">18</text>
<text x="1558.2" y="783.9" font-size="50.50" textLength="52.8" lengthAdjust="spacingAndGlyphs">16</text>
<text x="1557.4" y="860.8" font-size="50.50" textLength="52.8" lengthAdjust="spacingAndGlyphs">14</text>
<text x="1558.3" y="938.4" font-size="50.50" textLength="52.8" lengthAdjust="spacingAndGlyphs">12</text>
<text x="1558.3" y="1017.9" font-size="50.50" textLength="52.8" lengthAdjust="spacingAndGlyphs">10</text>
<text x="1573.1" y="1098.2" font-size="50.50" textLength="26.4" lengthAdjust="spacingAndGlyphs">8</text>
<text x="1573.1" y="1163.8" font-size="50.50" textLength="26.4" lengthAdjust="spacingAndGlyphs">6</text>
<text x="1572.9" y="1247.8" font-size="50.50" textLength="26.4" lengthAdjust="spacingAndGlyphs">4</text>
<text x="1573.2" y="1312.6" font-size="50.50" textLength="26.4" lengthAdjust="spacingAndGlyphs">2</text>
<text x="2227.7" y="483.9" font-size="50.50" textLength="52.8" lengthAdjust="spacingAndGlyphs">24</text>
<text x="2228.5" y="559.1" font-size="50.50" textLength="52.8" lengthAdjust="spacingAndGlyphs">22</text>
<text x="2228.6" y="641.3" font-size="50.50" textLength="52.8" lengthAdjust="spacingAndGlyphs">20</text>
<text x="2227.6" y="712.2" font-size="50.50" textLength="52.8" lengthAdjust="spacingAndGlyphs">18</text>
<text x="2227.8" y="795.1" font-size="50.50" textLength="52.8" lengthAdjust="spacingAndGlyphs">16</text>
<text x="2227.0" y="866.0" font-size="50.50" textLength="52.8" lengthAdjust="spacingAndGlyphs">14</text>
<text x="1584.6" y="1441.6" font-size="50.50" textLength="26.4" lengthAdjust="spacingAndGlyphs">0</text>
<text x="1662.9" y="1441.6" font-size="50.50" textLength="26.4" lengthAdjust="spacingAndGlyphs">2</text>
<text x="1727.4" y="1441.6" font-size="50.50" textLength="26.4" lengthAdjust="spacingAndGlyphs">4</text>
<text x="1804.9" y="1441.6" font-size="50.50" textLength="26.4" lengthAdjust="spacingAndGlyphs">6</text>
<text x="1881.9" y="1441.6" font-size="50.50" textLength="26.4" lengthAdjust="spacingAndGlyphs">8</text>
<text x="1960.0" y="1441.6" font-size="50.50" textLength="52.8" lengthAdjust="spacingAndGlyphs">10</text>
<text x="2024.8" y="1441.6" font-size="50.50" textLength="52.8" lengthAdjust="spacingAndGlyphs">12</text>
<text x="2102.9" y="1441.6" font-size="50.50" textLength="52.8" lengthAdjust="spacingAndGlyphs">14</text>
<text x="2182.0" y="1441.6" font-size="50.50" textLength="52.8" lengthAdjust="spacingAndGlyphs">16</text>
<text x="2430.8" y="789.9" font-size="50.50" textLength="52.8" lengthAdjust="spacingAndGlyphs">20</text>
<text x="2429.8" y="878.6" font-size="50.50" textLength="52.8" lengthAdjust="spacingAndGlyphs">18</text>
<text x="2430.0" y="960.0" font-size="50.50" textLength="52.8" lengthAdjust="spacingAndGlyphs">16</text>
<text x="2429.2" y="1035.6" font-size="50.50" textLength="52.8" lengthAdjust="spacingAndGlyphs">14</text>
<text x="2430.1" y="1122.5" font-size="50.50" textLength="52.8" lengthAdjust="spacingAndGlyphs">12</text>
<text x="2430.1" y="1194.8" font-size="50.50" textLength="52.8" lengthAdjust="spacingAndGlyphs">10</text>
<text x="2444.8" y="1284.8" font-size="50.50" textLength="26.4" lengthAdjust="spacingAndGlyphs">8</text>
<text x="2444.8" y="1350.4" font-size="50.50" textLength="26.4" lengthAdjust="spacingAndGlyphs">6</text>
<text x="2444.6" y="1440.9" font-size="50.50" textLength="26.4" lengthAdjust="spacingAndGlyphs">4</text>
<text x="2444.9" y="1522.6" font-size="50.50" textLength="26.4" lengthAdjust="spacingAndGlyphs">2</text>
<text x="3031.0" y="456.9" font-size="50.50" textLength="52.8" lengthAdjust="spacingAndGlyphs">29</text>
<text x="3031.1" y="534.4" font-size="50.50" textLength="52.8" lengthAdjust="spacingAndGlyphs">27</text>
<text x="3030.7" y="611.2" font-size="50.50" textLength="52.8" lengthAdjust="spacingAndGlyphs">25</text>
<text x="3030.9" y="687.4" font-size="50.50" textLength="52.8" lengthAdjust="spacingAndGlyphs">23</text>
<text x="3030.7" y="763.4" font-size="50.50" textLength="52.8" lengthAdjust="spacingAndGlyphs">21</text>
<text x="3030.3" y="845.2" font-size="50.50" textLength="52.8" lengthAdjust="spacingAndGlyphs">19</text>
<text x="3030.4" y="909.5" font-size="50.50" textLength="52.8" lengthAdjust="spacingAndGlyphs">17</text>
<text x="2454.3" y="1639.9" font-size="50.50" textLength="26.4" lengthAdjust="spacingAndGlyphs">2</text>
<text x="2546.6" y="1639.9" font-size="50.50" textLength="26.4" lengthAdjust="spacingAndGlyphs">4</text>
<text x="2627.6" y="1639.9" font-size="50.50" textLength="26.4" lengthAdjust="spacingAndGlyphs">6</text>
<text x="2708.8" y="1639.9" font-size="50.50" textLength="26.4" lengthAdjust="spacingAndGlyphs">8</text>
<text x="2776.6" y="1639.9" font-size="50.50" textLength="52.8" lengthAdjust="spacingAndGlyphs">10</text>
<text x="2857.4" y="1639.9" font-size="50.50" textLength="52.8" lengthAdjust="spacingAndGlyphs">12</text>
<text x="2937.8" y="1639.9" font-size="50.50" textLength="52.8" lengthAdjust="spacingAndGlyphs">14</text>
</g>
</svg>
</body></html>
